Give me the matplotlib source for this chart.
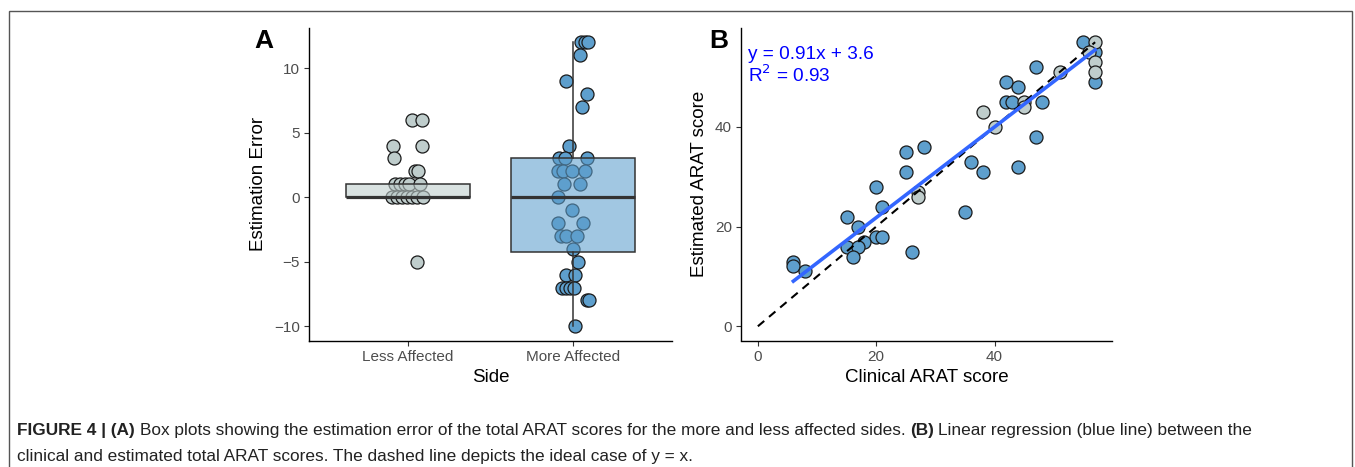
import matplotlib.pyplot as plt
from matplotlib import font_manager
from matplotlib.patches import Rectangle

# Panel A: estimation error per side (jittered strip + box)
less_y = [6, 6, 4, 4, 3, 2, 2, 1, 1, 1, 1, 1, 0, 0, 0, 0, 0, 0, 0, -5]
less_dx = [0.022, 0.083, -0.089, 0.083, -0.085, 0.042, 0.059,
           -0.079, -0.048, -0.018, 0.006, 0.073,
           -0.099, -0.068, -0.038, -0.008, 0.022, 0.053, 0.093, 0.053]

more_y = [12, 12, 12, 11, 9, 8, 7, 4, 3, 3, 3, 2, 2, 2, 2, 1, 1, 0, -1,
          -2, -2, -3, -3, -3, -4, -5, -6, -6, -7, -7, -7, -7, -8, -8, -10]
more_dx = [0.047, 0.073, 0.093, 0.042, -0.044, 0.083, 0.053, -0.024,
           -0.083, -0.048, 0.083, -0.089, -0.059, -0.004, 0.073,
           -0.055, 0.042, -0.089, -0.004, -0.089, 0.062,
           -0.075, -0.042, 0.022, 0.002, 0.032, -0.042, 0.012,
           -0.068, -0.042, -0.018, 0.006, 0.083, 0.099, 0.012]

sides = ["Less Affected", "More Affected"]
box_less = dict(med=0, q1=0, q3=1, whislo=0, whishi=1, fliers=[])
box_more = dict(med=0, q1=-4.25, q3=3, whislo=-10, whishi=12, fliers=[])

# Panel B: clinical vs estimated ARAT
blue_x = [55, 57, 47, 42, 44, 42, 43, 48, 47, 44, 36, 38, 35, 25, 28, 25, 20,
          21, 15, 17, 20, 21, 18, 15, 17, 16, 26, 6, 6, 8, 57]
blue_y = [57, 49, 52, 49, 48, 45, 45, 45, 38, 32, 33, 31, 23, 35, 36, 31, 28,
          24, 22, 20, 18, 18, 17, 16, 16, 14, 15, 13, 12, 11, 55]
gray_x = [57, 56, 57, 57, 51, 45, 45, 38, 40, 27, 27]
gray_y = [57, 55, 53, 51, 51, 45, 44, 43, 40, 27, 26]
slope, intercept, r2 = 0.91, 3.6, 0.93
fit_range = [6, 57]
ideal_range = [0, 57]

blue = "#5e9fcd"
gray = "#bfcdcc"
edge = "#1a1a1a"

plt.rcParams['font.family'] = ['Liberation Sans', 'DejaVu Sans']

fig = plt.figure(figsize=(13.55, 4.67), dpi=100)

# outer frame
fig.patches.append(Rectangle((9 / 1355, -0.05), 1343 / 1355, 1 - 11 / 467 + 0.05,
                             transform=fig.transFigure, fill=False,
                             edgecolor="#555555", linewidth=1.0))

axA = fig.add_axes([309 / 1355, 126.5 / 467, 363 / 1355, 312.5 / 467])
axB = fig.add_axes([741 / 1355, 126.5 / 467, 371 / 1355, 312.5 / 467])

for ax in (axA, axB):
    for s in ("top", "right"):
        ax.spines[s].set_visible(False)
    for s in ("left", "bottom"):
        ax.spines[s].set_linewidth(1.0)
        ax.spines[s].set_color("black")
    ax.tick_params(length=3.5, width=0.8, color="#333333",
                   labelsize=11, labelcolor="#4d4d4d", pad=3)

# ---- Panel A
axA.scatter([1 + d for d in less_dx], less_y, s=88, color=gray,
            edgecolors=edge, linewidths=0.9, zorder=2)
axA.scatter([2 + d for d in more_dx], more_y, s=88, color=blue,
            edgecolors=edge, linewidths=0.9, zorder=2)
bp = axA.bxp([box_less, box_more], positions=[1, 2], widths=0.75,
             patch_artist=True, showfliers=False, showcaps=False,
             boxprops=dict(edgecolor="#333333", linewidth=1.1),
             whiskerprops=dict(color="#333333", linewidth=1.1),
             medianprops=dict(color="#333333", linewidth=2.3),
             zorder=3)
for patch, c in zip(bp["boxes"], [gray, blue]):
    r, g, b, _ = plt.matplotlib.colors.to_rgba(c)
    patch.set_facecolor((r, g, b, 0.58))
axA.set_xlim(0.4, 2.6)
axA.set_ylim(-11.1, 13.1)
axA.set_xticks([1, 2])
axA.set_xticklabels(sides)
axA.set_yticks([-10, -5, 0, 5, 10])
axA.set_xlabel("Side", fontsize=13.5, labelpad=4)
axA.set_ylabel("Estimation Error", fontsize=13.5, labelpad=5)

# ---- Panel B
axB.scatter(blue_x, blue_y, s=88, color=blue, edgecolors=edge,
            linewidths=0.9, zorder=2)
axB.scatter(gray_x, gray_y, s=88, color=gray, edgecolors=edge,
            linewidths=0.9, zorder=2)
axB.plot(ideal_range, ideal_range, color="black", linestyle=(0, (4, 3)),
         linewidth=1.5, zorder=3)
axB.plot(fit_range, [slope * v + intercept for v in fit_range],
         color="#3366ff", linewidth=2.6, zorder=4)
axB.set_xlim(-2.85, 59.85)
axB.set_ylim(-2.85, 59.85)
axB.set_xticks([0, 20, 40])
axB.set_yticks([0, 20, 40])
axB.set_xlabel("Clinical ARAT score", fontsize=13.5, labelpad=4)
axB.set_ylabel("Estimated ARAT score", fontsize=13.5, labelpad=5)
axB.text(0.019, 0.90, f"y = {slope}x + {intercept}", transform=axB.transAxes,
         color="#0000ff", fontsize=13.7, va="baseline")
axB.text(0.019, 0.827, f"R$^2$ = {r2}", transform=axB.transAxes,
         color="#0000ff", fontsize=13.7, va="baseline")

fig.text(254 / 1355, 1 - 48 / 467, "A", fontsize=19, fontweight="bold",
         va="baseline")
fig.text(709 / 1355, 1 - 48 / 467, "B", fontsize=19, fontweight="bold",
         va="baseline")

# ---- caption
names = {f.name for f in font_manager.fontManager.ttflist}
cap_font = "Liberation Sans Narrow" if "Liberation Sans Narrow" in names else "Liberation Sans"

line1 = [("FIGURE 4 | (A)", "bold"),
         ("Box plots showing the estimation error of the total ARAT scores for the more and less affected sides.", "normal"),
         ("(B)", "bold"),
         ("Linear regression (blue line) between the", "normal")]
line2 = [("clinical and estimated total ARAT scores. The dashed line depicts the ideal case of y = x.", "normal")]

renderer = fig.canvas.get_renderer()


def width_px(s, size, weight):
    t = fig.text(0, 0, s, fontsize=size, fontweight=weight, family=cap_font)
    w = t.get_window_extent(renderer).width
    t.remove()
    return w


def line_width(parts, size):
    gap = width_px("x x", size, "normal") - width_px("xx", size, "normal")
    return sum(width_px(s, size, w) for s, w in parts) + gap * (len(parts) - 1), gap


base = 11.0
w0, _ = line_width(line1, base)
cap_size = base * 1234 / w0


def draw_line(parts, y_px):
    _, gap = line_width(parts, cap_size)
    x = 17
    for s, w in parts:
        fig.text(x / 1355, 1 - y_px / 467, s, fontsize=cap_size, fontweight=w,
                 family=cap_font, va="baseline", color="#222222")
        x += width_px(s, cap_size, w) + gap


draw_line(line1, 435)
draw_line(line2, 461)

fig.savefig("out.png", dpi=100)
